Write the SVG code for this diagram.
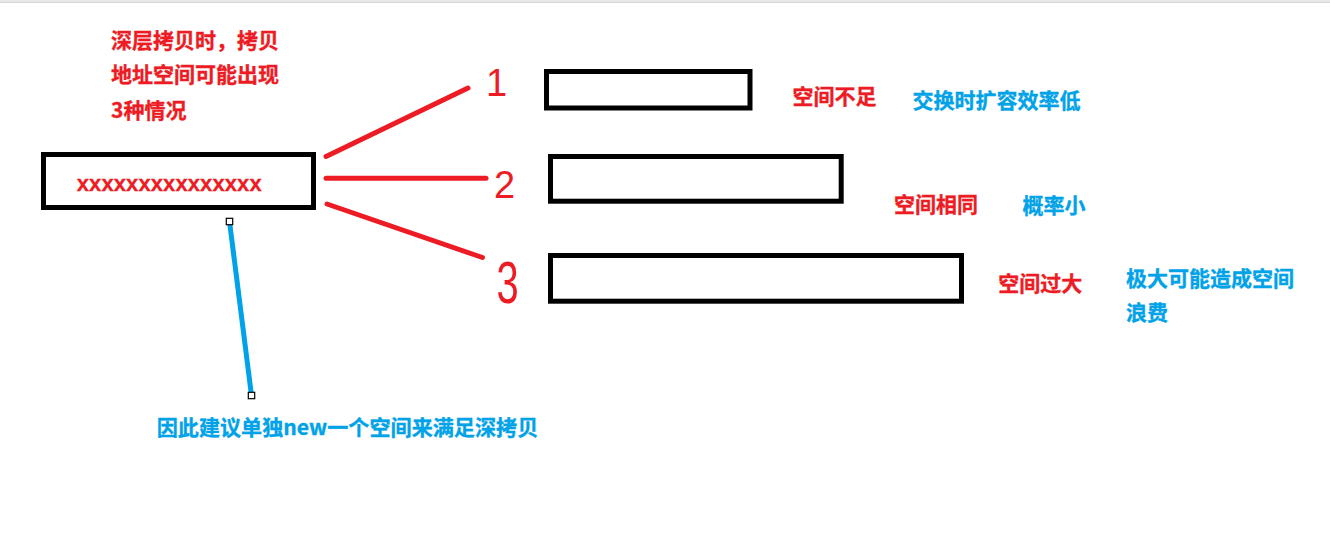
<svg xmlns="http://www.w3.org/2000/svg" width="1330" height="546" viewBox="0 0 1330 546">
  <style>
    .box { fill: #ffffff; stroke: #000000; stroke-width: 5; }
    .cn { font-family: "Noto Sans CJK SC", "Microsoft YaHei", sans-serif; font-weight: bold; font-size: 21px; stroke-width: 0.35px; }
    .red { fill: #ed1c24; stroke: #ed1c24; }
    .blue { fill: #00a2e8; stroke: #00a2e8; }
    .num { font-family: "Liberation Sans", Arial, sans-serif; font-size: 38px; fill: #ed1c24; }
    .conn { stroke: #ed1c24; stroke-width: 5; stroke-linecap: round; fill: none; }
    .handle { fill: #ffffff; stroke: #000000; stroke-width: 1.2; }
  </style>
  <rect x="0" y="0" width="1330" height="546" fill="#ffffff"/>
  <rect x="0" y="0" width="1330" height="2.5" fill="#e8e8e8"/>
  <line x1="0" y1="2.5" x2="1330" y2="2.5" stroke="#d6d6d6" stroke-width="1"/>

  <g id="note-top">
    <text class="cn red" x="111" y="47.5">深层拷贝时，拷贝</text>
    <text class="cn red" x="111" y="82">地址空间可能出现</text>
    <text class="cn red" x="111" y="117.5">3种情况</text>
  </g>

  <g id="source">
    <rect class="box" x="43.5" y="154.5" width="270" height="53"/>
    <text x="76.7" y="191" font-family="Liberation Sans, Arial, sans-serif" font-weight="bold" font-size="22" fill="#ed1c24" stroke="#ed1c24" stroke-width="0.3" textLength="185" lengthAdjust="spacing">xxxxxxxxxxxxxxx</text>
  </g>

  <g id="connectors">
    <line class="conn" x1="326" y1="156.5" x2="468" y2="88"/>
    <line class="conn" x1="326" y1="178.3" x2="486" y2="178.3"/>
    <line class="conn" x1="327" y1="204" x2="482.5" y2="257.5"/>
    <line x1="229.5" y1="221.5" x2="251.5" y2="395.5" stroke="#00a2e8" stroke-width="5"/>
    <rect class="handle" x="226.3" y="218.3" width="6.4" height="6.4"/>
    <rect class="handle" x="248.3" y="392.3" width="6.4" height="6.4"/>
  </g>

  <g id="case1">
    <text class="num" x="486" y="96">1</text>
    <rect class="box" x="546.5" y="71.5" width="203.5" height="36.5"/>
    <text class="cn red" x="792.5" y="104">空间不足</text>
    <text class="cn blue" x="912.5" y="108">交换时扩容效率低</text>
  </g>

  <g id="case2">
    <text class="num" x="494" y="198">2</text>
    <rect class="box" x="550.5" y="156.5" width="290.7" height="44.7"/>
    <text class="cn red" x="894" y="212">空间相同</text>
    <text class="cn blue" x="1022.5" y="212.5">概率小</text>
  </g>

  <g id="case3">
    <text class="num" transform="translate(496.5,303) scale(1.05,1.55)" x="0" y="0">3</text>
    <rect class="box" x="550.5" y="255.5" width="411" height="45.7"/>
    <text class="cn red" x="998.3" y="291">空间过大</text>
    <text class="cn blue" x="1126" y="286">极大可能造成空间</text>
    <text class="cn blue" x="1126" y="320">浪费</text>
  </g>

  <g id="note-bottom">
    <text class="cn blue" x="156.7" y="435" textLength="381.6" lengthAdjust="spacingAndGlyphs">因此建议单独new一个空间来满足深拷贝</text>
  </g>
</svg>
